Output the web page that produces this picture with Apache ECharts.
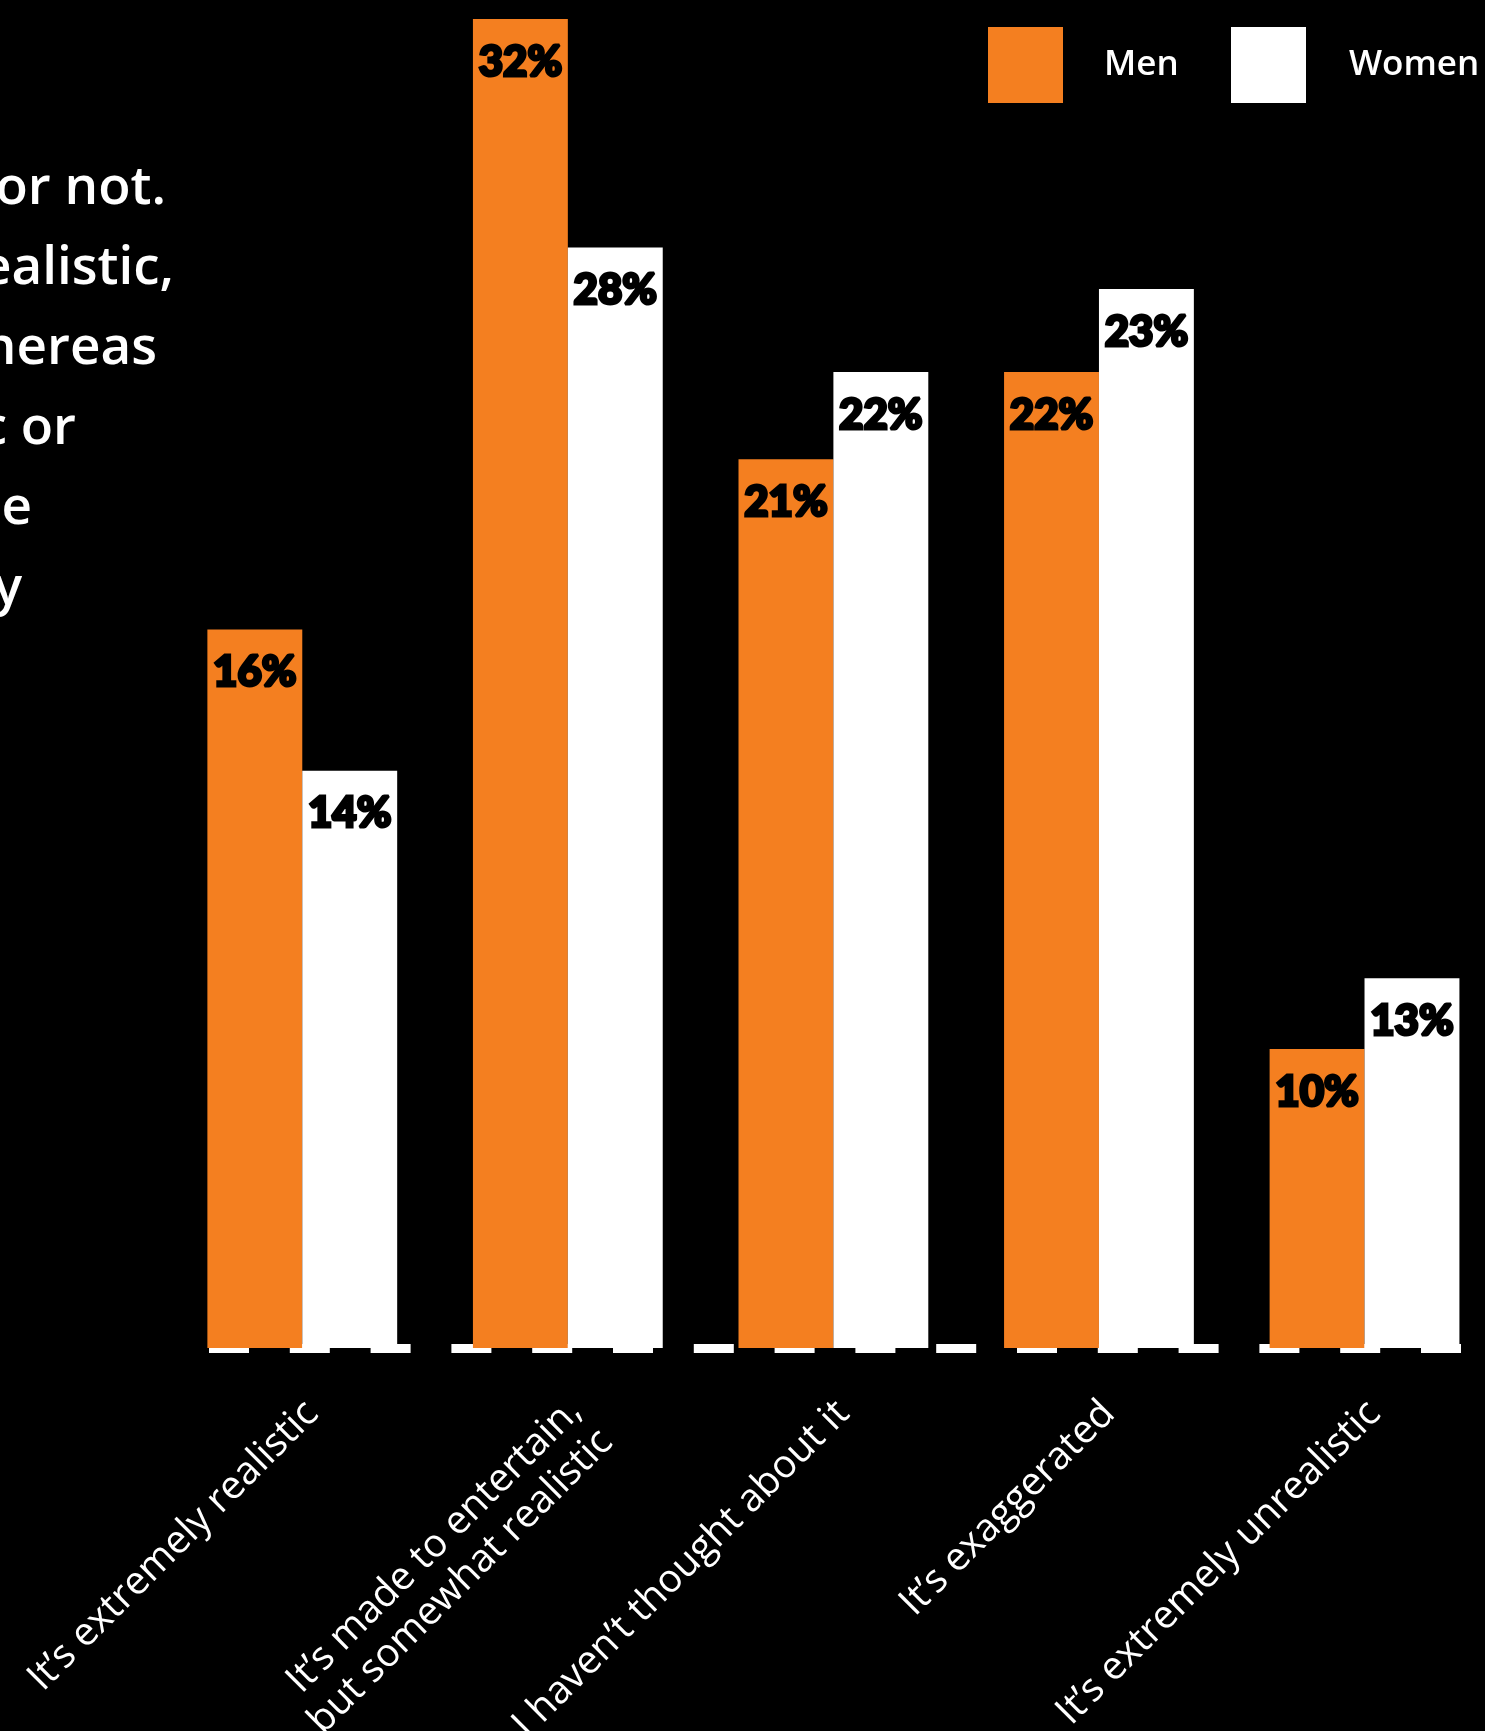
<!DOCTYPE html>
<html>
<head>
<meta charset="utf-8">
<style>
  html, body { margin: 0; padding: 0; background: #000; }
  #chart { width: 1485px; height: 1731px; }
</style>
<script src="https://cdn.jsdelivr.net/npm/echarts@6/dist/echarts.min.js"></script>
</head>
<body>
<div id="chart"></div>
<script>
// ---- data ----
const categories = [
  "It’s extremely realistic",
  "It’s made to entertain,\nbut somewhat realistic",
  "I haven’t thought about it",
  "It’s exaggerated",
  "It’s extremely unrealistic"
];
const seriesNames = ["Men", "Women"];
// printed percentages
const menLabels = [16, 32, 21, 22, 10];
const womenLabels = [14, 28, 22, 23, 13];
// bar lengths as drawn in the picture (read on the chart's own scale)
const menBars = [17.3, 32, 21.4, 23.5, 7.2];
const womenBars = [13.9, 26.5, 23.5, 25.5, 8.9];
// visible fragments of the clipped paragraph at the left edge
const introLines = ["or not.", "ealistic,", "hereas", "c or", "e", "y"];

// ---- styling / layout ----
const ORANGE = '#F47F20';
const introRight = [166, 174, 157, 76, 32, 22];

const chart = echarts.init(document.getElementById('chart'), null, { renderer: 'canvas' });

const barLabel = (labels) => ({
  show: true,
  position: 'insideTop',
  distance: 22,
  color: '#000',
  fontFamily: '"Lato Black", Lato',
  fontWeight: 900,
  fontSize: 42,
  lineHeight: 42,
  textBorderColor: '#000',
  textBorderWidth: 3,
  formatter: (p) => labels[p.dataIndex] + '%'
});

const legendBase = {
  orient: 'horizontal',
  top: 27,
  padding: 0,
  itemWidth: 75,
  itemHeight: 76,
  icon: 'rect',
  selectedMode: false
};

const option = {
  backgroundColor: '#000',
  animation: false,
  grid: { left: 169.5, right: -12.3, top: 19, bottom: 383, outerBoundsMode: 'none' },
  legend: [
    Object.assign({}, legendBase, {
      left: 988, data: [seriesNames[0]],
      textStyle: { color: '#fff', fontFamily: 'Open Sans', fontWeight: 600, fontSize: 35, padding: [2, 0, 0, 36] }
    }),
    Object.assign({}, legendBase, {
      left: 1231, data: [seriesNames[1]],
      textStyle: { color: '#fff', fontFamily: 'Open Sans', fontWeight: 600, fontSize: 35, padding: [2, 0, 0, 38] }
    })
  ],
  xAxis: {
    type: 'category',
    data: categories,
    offset: 4.5,
    axisLine: {
      show: true,
      lineStyle: { color: '#fff', width: 9, type: [40, 40.8], dashOffset: 41.3, cap: 'butt' }
    },
    axisTick: { show: false },
    splitLine: { show: false },
    axisLabel: {
      interval: 0,
      rotate: 45,
      margin: 45,
      hideOverlap: false,
      color: '#fff',
      fontFamily: 'Open Sans',
      fontWeight: 500,
      fontSize: 39,
      lineHeight: 44,
      // an invisible spacer line pushes each rotated label outward from the axis
      formatter: (v) => (v.indexOf('\n') >= 0 ? '{s2| }\n' : '{s1| }\n') + v,
      rich: {
        s1: { lineHeight: 28, height: 28, fontSize: 10 },
        s2: { lineHeight: 65, height: 65, fontSize: 10 }
      }
    }
  },
  yAxis: {
    type: 'value',
    min: 0,
    max: 32,
    show: false,
    splitLine: { show: false }
  },
  series: [
    {
      name: seriesNames[0],
      type: 'bar',
      data: menBars,
      barWidth: 94.9,
      barGap: '0%',
      itemStyle: { color: ORANGE },
      label: barLabel(menLabels)
    },
    {
      name: seriesNames[1],
      type: 'bar',
      data: womenBars,
      barWidth: 94.9,
      barGap: '0%',
      itemStyle: { color: '#fff' },
      label: barLabel(womenLabels)
    }
  ],
  graphic: introLines.map((t, i) => ({
    type: 'text',
    silent: true,
    style: {
      text: t,
      x: introRight[i],
      y: 188.5 + i * 80,
      textAlign: 'right',
      textVerticalAlign: 'middle',
      fill: '#fff',
      font: '600 53px "Open Sans"'
    }
  }))
};

chart.setOption(option);
</script>
</body>
</html>
